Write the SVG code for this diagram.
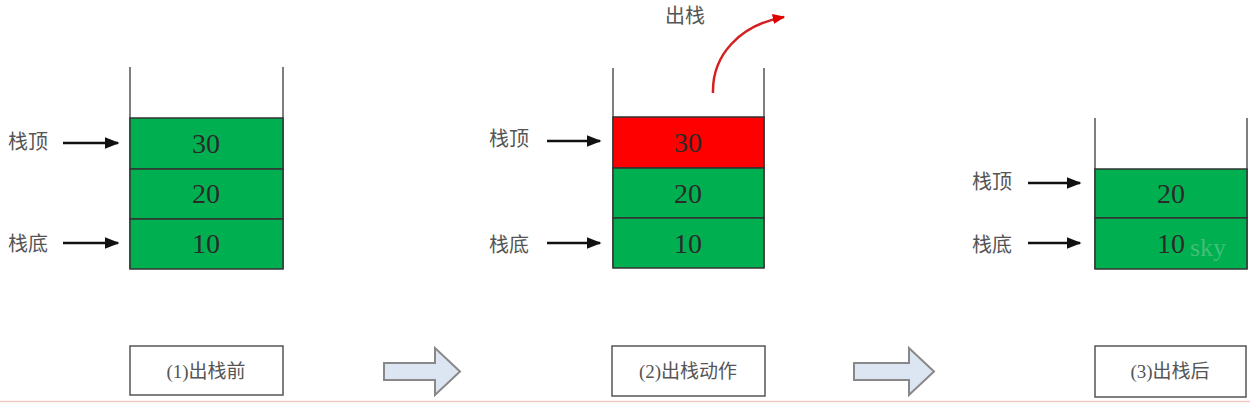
<svg xmlns="http://www.w3.org/2000/svg" width="1250" height="404" viewBox="0 0 1250 404">
<defs>
<style>
.wall{stroke:#555;stroke-width:1.5;fill:none}
.cellg{fill:#00b050;stroke:#333;stroke-width:1.5}
.cellr{fill:#ff0000;stroke:#333;stroke-width:1.5}
.num{font-family:"Liberation Serif",serif;font-size:28px;fill:#2a2a2a;text-anchor:middle;dominant-baseline:central}
.lbl{font-family:"Liberation Serif","Noto Sans CJK SC",serif;font-size:20px;fill:#555;dominant-baseline:central}
.ptr{stroke:#111;stroke-width:2.5;fill:none}
.cap{fill:#fff;stroke:#555;stroke-width:1.5}
.captxt{font-family:"Liberation Serif","Noto Sans CJK SC",serif;font-size:19px;fill:#555;text-anchor:middle;dominant-baseline:central}
.blk{fill:#dce6f2;stroke:#888;stroke-width:2}
</style>
<marker id="ah" viewBox="0 0 10 10" refX="9" refY="5" markerWidth="6" markerHeight="6" orient="auto" markerUnits="strokeWidth"><path d="M0,1 L10,5 L0,9 z" fill="#111"/></marker>
<marker id="ahr" viewBox="0 0 10 10" refX="9" refY="5" markerWidth="5" markerHeight="5" orient="auto" markerUnits="strokeWidth"><path d="M0,1 L10,5 L0,9 z" fill="#e00000"/></marker>
</defs>
<rect width="1250" height="404" fill="#fff"/>
<line x1="0" y1="401.5" x2="1250" y2="401.5" stroke="#f5c8c8" stroke-width="1.5"/>

<g id="stack1">
<path class="wall" d="M130,67 V269 M283,67 V269"/>
<rect class="cellg" x="130" y="118" width="153" height="51"/>
<rect class="cellg" x="130" y="169" width="153" height="50"/>
<rect class="cellg" x="130" y="219" width="153" height="50"/>
<text class="num" x="206" y="143">30</text>
<text class="num" x="206" y="193">20</text>
<text class="num" x="206" y="243">10</text>
<text class="lbl" x="8" y="142">栈顶</text>
<text class="lbl" x="8" y="244">栈底</text>
</g>

<g id="stack2">
<path class="wall" d="M613,68 V268 M764,68 V268"/>
<rect class="cellr" x="613" y="117" width="151" height="51"/>
<rect class="cellg" x="613" y="168" width="151" height="50"/>
<rect class="cellg" x="613" y="218" width="151" height="50"/>
<text class="num" x="688" y="142">30</text>
<text class="num" x="688" y="193">20</text>
<text class="num" x="688" y="243">10</text>
<text class="lbl" x="489" y="139">栈顶</text>
<text class="lbl" x="489" y="245">栈底</text>
<text class="lbl" x="665" y="16">出栈</text>
</g>

<g id="stack3">
<path class="wall" d="M1095,118 V269 M1247,118 V269"/>
<rect class="cellg" x="1095" y="169" width="152" height="49"/>
<rect class="cellg" x="1095" y="218" width="152" height="51"/>
<text class="num" x="1171" y="193">20</text>
<text class="num" x="1171" y="243">10</text>
<text class="lbl" x="972" y="182">栈顶</text>
<text class="lbl" x="972" y="245">栈底</text>
<text x="1190" y="256" font-family="Liberation Serif,serif" font-size="26" fill="#8fd0a4" opacity="0.45">sky</text>
</g>

<g id="caption1"><rect class="cap" x="130" y="346" width="153" height="49"/><text class="captxt" x="206" y="371">(1)出栈前</text></g>
<g id="caption2"><rect class="cap" x="612" y="346" width="153" height="50"/><text class="captxt" x="688" y="371">(2)出栈动作</text></g>
<g id="caption3"><rect class="cap" x="1095" y="346" width="151" height="51"/><text class="captxt" x="1170" y="371">(3)出栈后</text></g>

<g id="flow1"><path class="blk" d="M384,363 H435 V348 L460,371.5 L435,395 V380 H384 Z"/></g>
<g id="flow2"><path class="blk" d="M854,363 H909 V348 L934,371.5 L909,395 V380 H854 Z"/></g>

<g id="connectors">
<line class="ptr" x1="63" y1="143" x2="118" y2="143" marker-end="url(#ah)"/>
<line class="ptr" x1="63" y1="243" x2="118" y2="243" marker-end="url(#ah)"/>
<line class="ptr" x1="547" y1="141" x2="600" y2="141" marker-end="url(#ah)"/>
<line class="ptr" x1="547" y1="243" x2="600" y2="243" marker-end="url(#ah)"/>
<line class="ptr" x1="1028" y1="183" x2="1080" y2="183" marker-end="url(#ah)"/>
<line class="ptr" x1="1028" y1="243" x2="1080" y2="243" marker-end="url(#ah)"/>
<path d="M713,93 C712,55 740,25 784,17" stroke="#d42020" stroke-width="2.5" fill="none" marker-end="url(#ahr)"/>
</g>
</svg>
